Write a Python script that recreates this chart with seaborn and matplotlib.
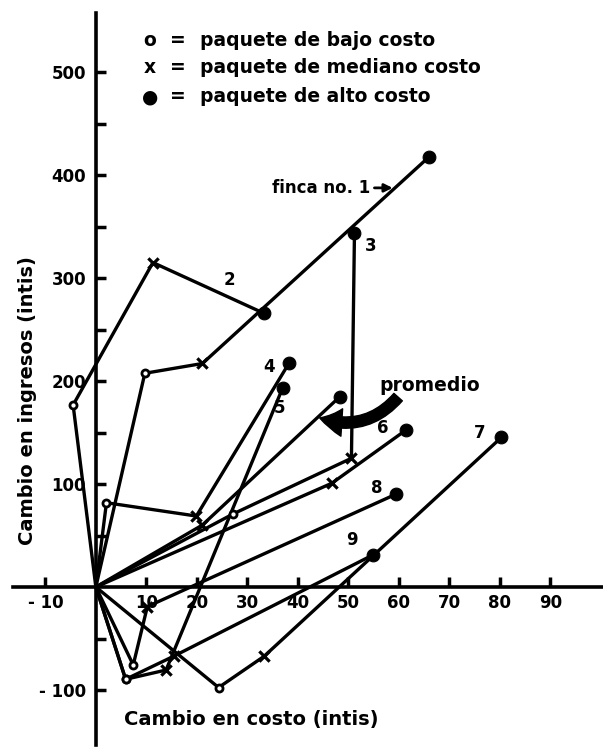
import numpy as np
import pandas as pd
import matplotlib
matplotlib.use('Agg')
import matplotlib.pyplot as plt
import seaborn as sns

# Cambio en costo (x) y cambio en ingresos (y)
fincas = ['1', '2', '3', '4', '5', '6', '7', '8', '9', 'promedio']
# paquete de bajo costo (o)
bajo_costo = [9.7, -4.5, 27.2, 2.1, 5.9, np.nan, 24.3, 7.4, 5.9, np.nan]
bajo_ingreso = [207.5, 176.7, 71.0, 81.8, -89.6, np.nan, -97.6, -75.7, -89.6, np.nan]
# paquete de mediano costo (x)
mediano_costo = [21.1, 11.3, 50.6, 19.9, 13.9, 46.7, 33.3, 10.2, 15.5, 21.1]
mediano_ingreso = [217.0, 315.0, 125.0, 68.9, -80.6, 100.7, -67.3, -19.0, -67.0, 60.2]
# paquete de alto costo (●)
alto_costo = [66.0, 33.3, 51.2, 38.3, 37.0, 61.4, 80.3, 59.5, 54.8, 48.3]
alto_ingreso = [417.8, 265.7, 344.0, 217.8, 193.5, 152.4, 145.3, 90.3, 31.0, 184.8]

# numeros de finca junto a las lineas
etiquetas = ['2', '3', '4', '5', '6', '7', '8', '9']
etiqueta_x = [26.5, 54.5, 34.3, 36.4, 56.8, 76.0, 55.6, 50.7]
etiqueta_y = [298, 331, 214, 174, 154, 150, 96, 46]

x_ticks = [-10, 10, 20, 30, 40, 50, 60, 70, 80, 90]
x_tick_labels = ['- 10', '10', '20', '30', '40', '50', '60', '70', '80', '90']
y_ticks = [-100, 100, 200, 300, 400, 500]
y_tick_labels = ['- 100', '100', '200', '300', '400', '500']
y_minor = [-50, 50, 150, 250, 350, 450]

leyenda_simbolos = ['o', 'x', '●']
leyenda_textos = ['paquete de bajo costo', 'paquete de mediano costo', 'paquete de alto costo']

sns.set_style('ticks')
plt.rcParams['font.family'] = ['DejaVu Sans']
plt.rcParams['font.weight'] = 'bold'
plt.rcParams['axes.labelweight'] = 'bold'
plt.rcParams['text.color'] = 'black'
plt.rcParams['axes.labelcolor'] = 'black'
plt.rcParams['axes.edgecolor'] = 'black'
plt.rcParams['xtick.color'] = 'black'
plt.rcParams['ytick.color'] = 'black'

# Build the paths: origin -> bajo -> mediano -> alto
rows = []
for i, f in enumerate(fincas):
    pts = [(0.0, 0.0), (bajo_costo[i], bajo_ingreso[i]),
           (mediano_costo[i], mediano_ingreso[i]), (alto_costo[i], alto_ingreso[i])]
    pts = [p for p in pts if not np.isnan(p[0])]
    for orden, (c, r) in enumerate(pts):
        rows.append({'finca': f, 'orden': orden, 'costo': c, 'ingreso': r})
paths = pd.DataFrame(rows)

fig = plt.figure(figsize=(6.03, 7.5), dpi=100)
ax = fig.add_axes([13 / 603, 5 / 750, 590 / 603, 732 / 750])

sns.lineplot(data=paths, x='costo', y='ingreso', units='finca', estimator=None,
             sort=False, color='black', linewidth=2.4, legend=False, ax=ax)

bajo = pd.DataFrame({'costo': bajo_costo, 'ingreso': bajo_ingreso}).dropna()
mediano = pd.DataFrame({'costo': mediano_costo, 'ingreso': mediano_ingreso})
alto = pd.DataFrame({'costo': alto_costo, 'ingreso': alto_ingreso})
sns.scatterplot(data=bajo, x='costo', y='ingreso', marker='o', s=26, facecolor='white',
                edgecolor='black', linewidth=2, zorder=3, ax=ax)
sns.scatterplot(data=mediano, x='costo', y='ingreso', marker='x', s=55, color='black',
                linewidth=2.3, zorder=3, ax=ax)
sns.scatterplot(data=alto, x='costo', y='ingreso', marker='o', s=85, color='black',
                edgecolor='black', zorder=3, ax=ax)

# Axes through the origin
ax.set_xlim(-16.4, 100.4)
ax.set_ylim(-153.4, 557.3)
ax.spines['left'].set_position(('data', 0))
ax.spines['bottom'].set_position(('data', 0))
ax.spines['top'].set_visible(False)
ax.spines['right'].set_visible(False)
for s in ['left', 'bottom']:
    ax.spines[s].set_linewidth(2.6)
ax.set_xticks(x_ticks)
ax.set_xticklabels(x_tick_labels)
ax.set_yticks(y_ticks)
ax.set_yticklabels(y_tick_labels)
ax.set_yticks(y_minor, minor=True)
ax.tick_params(which='both', direction='in', length=7, width=2.5, labelsize=12)
ax.tick_params(axis='y', pad=7)
ax.tick_params(axis='x', pad=5)

ax.set_xlabel('Cambio en costo (intis)', fontsize=14)
ax.xaxis.set_label_coords(0.403, 0.048)
ax.set_ylabel('Cambio en ingresos (intis)', fontsize=14)
ax.yaxis.set_label_coords(0.041, 0.47)

# Legend written as text
for sym, txt, yy in zip(leyenda_simbolos, leyenda_textos, [531, 504, 476]):
    ax.text(10.7, yy, sym, fontsize=13.5, ha='center', va='center')
    ax.text(16.2, yy, '=', fontsize=13.5, ha='center', va='center')
    ax.text(20.6, yy, txt, fontsize=13.5, ha='left', va='center')

for lab, lx, ly in zip(etiquetas, etiqueta_x, etiqueta_y):
    ax.text(lx, ly, lab, fontsize=12, ha='center', va='center')

ax.text(54.3, 387.5, 'finca no. 1', fontsize=12, ha='right', va='center')
ax.annotate('', xy=(59.3, 387.5), xytext=(54.6, 387.5),
            arrowprops=dict(arrowstyle='-|>', color='black', lw=2, mutation_scale=12))

ax.text(56.2, 196, 'promedio', fontsize=13.5, ha='left', va='center')
ax.annotate('', xy=(43.8, 165), xytext=(60.2, 186.4),
            arrowprops=dict(arrowstyle='simple,head_length=0.9,head_width=1.1,tail_width=0.45',
                            connectionstyle='arc3,rad=-0.35', color='black', mutation_scale=18))

fig.savefig('out.png', dpi=100)
